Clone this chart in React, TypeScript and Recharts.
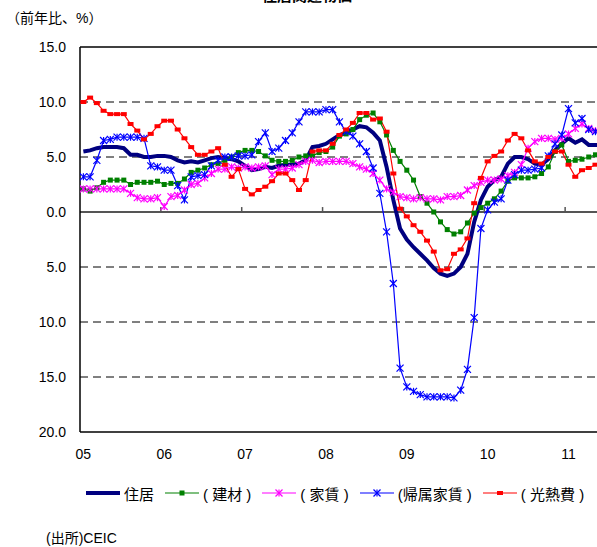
import React from 'react';
import { LineChart, Line, XAxis, YAxis, ReferenceLine } from 'recharts';

// monthly, Jan 2005 .. Jun 2011 (y/y %)
const JUKYO = [
  5.5, 5.6, 5.8, 5.9, 5.9, 5.9, 5.8, 5.2, 5.2, 5.0, 5.0, 5.1,
  5.1, 5.0, 4.7, 4.5, 4.6, 4.5, 4.7, 4.9, 5.0, 4.9, 4.8, 4.6,
  4.2, 3.8, 3.9, 4.1, 4.0, 4.2, 4.3, 4.3, 4.4, 4.7, 5.9, 6.0,
  6.2, 6.6, 7.0, 7.2, 7.5, 7.8, 7.7, 7.2, 6.5, 4.1, 1.1, -1.5,
  -2.5, -3.2, -3.8, -4.4, -5.1, -5.6, -5.8, -5.6, -5.0, -3.8, -0.9, 1.1,
  2.3, 2.9, 3.2, 4.4, 5.0, 5.0, 4.8, 4.4, 4.3, 4.8, 5.6, 6.2,
  6.7, 6.3, 6.6, 6.1, 6.1, 6.1,
];
const KENZAI = [
  2.1, 1.9, 2.2, 2.7, 2.9, 2.9, 2.9, 2.5, 2.7, 2.7, 2.7, 2.8,
  2.5, 2.6, 2.6, 3.0, 3.6, 3.8, 4.0, 4.3, 4.4, 4.7, 5.0, 5.4,
  5.6, 5.6, 5.5, 5.1, 4.7, 4.6, 4.6, 4.7, 5.0, 5.1, 5.1, 5.4,
  5.5, 5.9, 6.9, 7.1, 7.5, 8.4, 8.8, 9.0, 8.2, 7.0, 5.6, 4.6,
  3.8, 2.9, 1.4, 0.8, 0.0, -0.9, -1.6, -2.0, -1.8, -1.0, -0.1, 0.4,
  0.8, 1.2, 1.9, 2.8, 3.1, 3.1, 3.1, 3.2, 3.5, 4.1, 5.5, 6.1,
  4.6, 4.7, 4.8, 5.0, 5.2, 5.2,
];
const YACHIN = [
  2.1, 2.1, 2.1, 2.1, 2.1, 2.1, 2.1, 1.7, 1.3, 1.2, 1.2, 1.3,
  0.5, 1.4, 1.5, 2.0, 2.5, 2.6, 3.1, 3.5, 3.9, 3.9, 4.1, 4.0,
  4.1, 4.0, 4.1, 4.2, 3.4, 3.9, 3.9, 4.0, 4.3, 4.6, 4.7, 4.5,
  4.6, 4.6, 4.6, 4.6, 4.4, 4.1, 3.9, 3.5, 2.9, 2.1, 1.8, 1.4,
  1.3, 1.2, 1.3, 1.2, 1.2, 1.1, 1.4, 1.4, 1.5, 2.0, 2.4, 2.7,
  2.9, 2.9, 3.0, 3.3, 3.6, 4.3, 5.8, 6.4, 6.7, 6.7, 6.6, 6.7,
  7.1, 7.6, 8.0, 7.6, 7.4, 7.3,
];
const KIZOKU = [
  3.2, 3.2, 4.7, 6.5, 6.6, 6.8, 6.8, 6.8, 6.8, 6.7, 4.2, 4.1,
  3.8, 3.8, 2.4, 1.1, 3.2, 3.3, 3.4, 4.2, 4.7, 5.0, 5.0, 5.1,
  5.1, 5.2, 6.4, 7.2, 5.5, 5.8, 6.5, 7.2, 8.2, 9.1, 9.1, 9.1,
  9.3, 9.3, 8.2, 7.3, 6.9, 6.2, 5.5, 4.0, 1.7, -1.8, -6.5, -14.2,
  -15.9, -16.3, -16.6, -16.8, -16.8, -16.8, -16.8, -16.9, -16.2, -14.3, -9.6, -1.5,
  0.2, 0.9, 1.2, 2.9, 3.4, 3.8, 3.8, 3.9, 4.0, 5.1, 6.2, 7.0,
  9.4, 8.1, 8.5, 7.5, 7.3, 7.2,
];
const KONETSU = [
  10.0, 10.4, 9.9, 9.2, 8.9, 8.9, 8.9, 8.0, 7.4, 6.6, 7.1, 7.8,
  8.3, 8.3, 7.5, 6.7, 5.9, 5.2, 5.2, 5.5, 5.8, 4.3, 3.2, 3.9,
  2.1, 1.6, 2.0, 2.3, 2.8, 3.5, 3.5, 2.9, 2.0, 2.9, 5.5, 5.6,
  5.6, 6.2, 7.0, 7.5, 8.1, 9.0, 9.0, 8.4, 8.5, 7.3, 3.5, 0.3,
  -0.4, -1.2, -1.8, -2.6, -3.6, -5.3, -5.2, -3.8, -3.4, -2.4, 0.8, 3.1,
  4.6, 5.1, 5.5, 6.5, 7.1, 6.7, 5.6, 4.6, 4.4, 5.0, 5.5, 5.5,
  4.3, 3.2, 3.8, 4.0, 4.3, 4.5,
];

const YEAR_LABELS = ['05', '06', '07', '08', '09', '10', '11'];
const Y_TICKS = [15, 10, 5, 0, -5, -10, -15, -20];
const GRID_VALUES = [10, 5, -5, -10, -15];

const data = JUKYO.map((v, i) => ({
  m: i,
  jukyo: v,
  kenzai: KENZAI[i],
  yachin: YACHIN[i],
  kizoku: KIZOKU[i],
  konetsu: KONETSU[i],
}));

const FONT = "'Liberation Sans', Arial, 'Noto Sans CJK JP', sans-serif";

const squareDot = (color: string, w: number, h: number) => (p: any) => {
  if (p.cx == null || p.cy == null) return <g key={`s-${color}-${p.index}`} />;
  return <rect key={`s-${color}-${p.index}`} x={p.cx - w / 2} y={p.cy - h / 2} width={w} height={h} fill={color} />;
};

const starDot = (color: string) => (p: any) => {
  if (p.cx == null || p.cy == null) return <g key={`a-${color}-${p.index}`} />;
  const r = 3.5;
  return (
    <g key={`a-${color}-${p.index}`} stroke={color} strokeWidth={1.2}>
      <line x1={p.cx - r} y1={p.cy - r} x2={p.cx + r} y2={p.cy + r} />
      <line x1={p.cx - r} y1={p.cy + r} x2={p.cx + r} y2={p.cy - r} />
      <line x1={p.cx} y1={p.cy - r} x2={p.cx} y2={p.cy + r} />
    </g>
  );
};

const XTick = (props: any) => {
  const { x, y, payload } = props;
  return (
    <text x={x} y={y} dy="0.71em" textAnchor="middle" fontSize={14} fill="#000" fontFamily={FONT}>
      {YEAR_LABELS[Math.round(payload.value / 12)]}
    </text>
  );
};

const LegendMark = ({ color, width, kind }: { color: string; width: number; kind: string }) => (
  <svg width={36} height={10} style={{ display: 'block' }}>
    <line x1={1} y1={5} x2={35} y2={5} stroke={color} strokeWidth={width} />
    {kind === 'square' && <rect x={15.5} y={2.5} width={5} height={5} fill={color} />}
    {kind === 'rect' && <rect x={15} y={3} width={6} height={4} fill={color} />}
    {kind === 'star' && (
      <g stroke={color} strokeWidth={1.2}>
        <line x1={14.5} y1={1.5} x2={21.5} y2={8.5} />
        <line x1={14.5} y1={8.5} x2={21.5} y2={1.5} />
        <line x1={18} y1={1.5} x2={18} y2={8.5} />
      </g>
    )}
  </svg>
);

const LEGEND = [
  { label: '住居', color: '#000080', width: 4, kind: 'none' },
  { label: '( 建材 )', color: '#008000', width: 1.2, kind: 'square' },
  { label: '( 家賃 )', color: '#ff00ff', width: 1.2, kind: 'star' },
  { label: '(帰属家賃 )', color: '#0000ff', width: 1.2, kind: 'star' },
  { label: '( 光熱費 )', color: '#ff0000', width: 1.2, kind: 'rect' },
];

export default function App() {
  return (
    <div
      style={{
        position: 'fixed',
        left: 0,
        top: 0,
        width: 597,
        height: 547,
        overflow: 'hidden',
        background: '#fff',
        fontFamily: FONT,
        color: '#000',
      }}
    >
      <div style={{ position: 'absolute', left: 262, top: -12, fontSize: 15, lineHeight: '15px', fontWeight: 'bold' }}>
        住居関連物価
      </div>
      <div style={{ position: 'absolute', left: 6, top: 10, fontSize: 14, lineHeight: '16px' }}>（前年比、%）</div>

      <div style={{ position: 'absolute', left: 0, top: 0 }}>
        <LineChart width={646} height={480} data={data} margin={{ top: 47, right: 0, bottom: 0, left: 0 }}>
          <XAxis
            dataKey="m"
            type="number"
            domain={[-0.5, 83.5]}
            allowDataOverflow
            ticks={[0, 12, 24, 36, 48, 60, 72]}
            tick={<XTick />}
            tickLine={false}
            tickSize={0}
            tickMargin={17}
            height={48}
            axisLine={{ stroke: '#000', strokeWidth: 1.5 }}
          />
          <YAxis
            type="number"
            domain={[-20, 15]}
            ticks={Y_TICKS}
            interval={0}
            width={80}
            tickLine={false}
            tickSize={0}
            tickMargin={14}
            tickFormatter={(v: number) => Math.abs(v).toFixed(1)}
            tick={{ fill: '#000', fontSize: 14, fontFamily: FONT }}
            axisLine={{ stroke: '#000', strokeWidth: 1.5 }}
          />
          {GRID_VALUES.map((g) => (
            <ReferenceLine key={`g${g}`} y={g} stroke="#000" strokeDasharray="8 5" strokeWidth={1} />
          ))}
          <ReferenceLine y={15} stroke="#000" strokeWidth={1.5} />
          <ReferenceLine y={0} stroke="#555" strokeWidth={2} />
          {YEAR_LABELS.slice(1).map((_, k) => (
            <ReferenceLine
              key={`t${k}`}
              segment={[
                { x: 12 * (k + 1) - 0.5, y: 0 },
                { x: 12 * (k + 1) - 0.5, y: 0.45 },
              ]}
              stroke="#555"
              strokeWidth={1.5}
            />
          ))}
          <Line dataKey="jukyo" stroke="#000080" strokeWidth={4} dot={false} isAnimationActive={false} />
          <Line dataKey="kenzai" stroke="#008000" strokeWidth={1.2} dot={squareDot('#008000', 5, 5)} isAnimationActive={false} />
          <Line dataKey="yachin" stroke="#ff00ff" strokeWidth={1.2} dot={starDot('#ff00ff')} isAnimationActive={false} />
          <Line dataKey="kizoku" stroke="#0000ff" strokeWidth={1.2} dot={starDot('#0000ff')} isAnimationActive={false} />
          <Line dataKey="konetsu" stroke="#ff0000" strokeWidth={1.2} dot={squareDot('#ff0000', 6, 4)} isAnimationActive={false} />
        </LineChart>
      </div>

      <div style={{ position: 'absolute', left: 85, top: 483, height: 20, display: 'flex', alignItems: 'center', fontSize: 15 }}>
        {LEGEND.map((item) => (
          <div key={item.label} style={{ display: 'flex', alignItems: 'center', marginRight: 10 }}>
            <LegendMark color={item.color} width={item.width} kind={item.kind} />
            <span style={{ marginLeft: 3, whiteSpace: 'pre' }}>{item.label}</span>
          </div>
        ))}
      </div>

      <div style={{ position: 'absolute', left: 46, top: 529, fontSize: 14, lineHeight: '18px' }}>(出所)CEIC</div>
    </div>
  );
}
